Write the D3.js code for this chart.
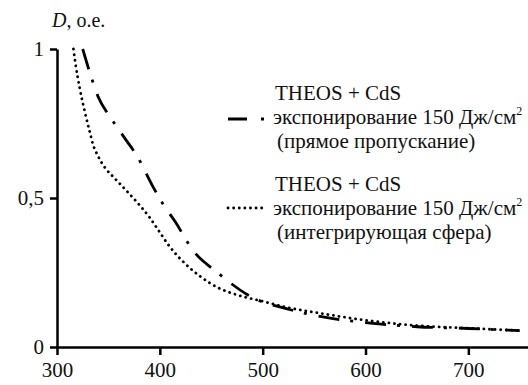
<!DOCTYPE html>
<html>
<head>
<meta charset="utf-8">
<script src="https://cdn.jsdelivr.net/npm/d3@7"></script>
</head>
<body style="margin:0">
<script>
// wavelength, nm
var lambdaDirect = [325, 332, 340, 350, 359, 366, 378, 393, 403, 415, 432, 456, 488, 527, 560, 600, 650, 700, 750];
// D, o.e. - прямое пропускание
var dDirect = [1.0, 0.92, 0.84, 0.78, 0.735, 0.70, 0.64, 0.54, 0.48, 0.42, 0.325, 0.25, 0.17, 0.125, 0.10, 0.082, 0.068, 0.062, 0.055];

var lambdaSphere = [316, 318, 322, 327, 332, 335, 340, 347, 355, 366, 378, 390, 397, 410, 423, 440, 456, 475, 498, 525, 553, 600, 650, 700, 750];
// D, o.e. - интегрирующая сфера
var dSphere = [1.0, 0.95, 0.87, 0.79, 0.72, 0.68, 0.64, 0.60, 0.57, 0.53, 0.485, 0.435, 0.40, 0.335, 0.285, 0.235, 0.20, 0.175, 0.155, 0.132, 0.115, 0.09, 0.072, 0.063, 0.055];

var xTicks = [300, 400, 500, 600, 700];
var yTicks = [0, 0.5, 1];
var yTickLabels = ["0", "0,5", "1"];

var width = 528, height = 385;
var font = "Liberation Serif";

var svg = d3.select("body").append("svg")
  .attr("width", width)
  .attr("height", height);

var x = d3.scaleLinear().domain([300, 758]).range([57, 528]);
var y = d3.scaleLinear().domain([0, 1]).range([347, 49]);

// curves
var line = d3.line()
  .x(function(d) { return x(d[0]); })
  .y(function(d) { return y(d[1]); })
  .curve(d3.curveMonotoneX);

var direct = d3.zip(lambdaDirect, dDirect);
var sphere = d3.zip(lambdaSphere, dSphere);

svg.append("path")
  .datum(sphere)
  .attr("d", line)
  .attr("fill", "none")
  .attr("stroke", "#000")
  .attr("stroke-width", 2.8)
  .attr("stroke-linecap", "round")
  .attr("stroke-dasharray", "0.1,5.5");

svg.append("path")
  .datum(direct)
  .attr("d", line)
  .attr("fill", "none")
  .attr("stroke", "#000")
  .attr("stroke-width", 2.8)
  .attr("stroke-dasharray", "21,11,3,12");

// axes
var xAxis = svg.append("g")
  .attr("transform", "translate(0," + y(0) + ")")
  .call(d3.axisBottom(x).tickValues(xTicks).tickSize(8).tickSizeOuter(0).tickPadding(7));

var yAxis = svg.append("g")
  .attr("transform", "translate(" + x(300) + ",0)")
  .call(d3.axisLeft(y).tickValues(yTicks).tickSize(7).tickSizeOuter(0).tickPadding(6)
    .tickFormat(function(d, i) { return yTickLabels[i]; }));

[xAxis, yAxis].forEach(function(g) {
  g.attr("font-family", font).attr("font-size", 21);
  g.selectAll("path, line").attr("stroke", "#000").attr("stroke-width", 2.5);
  g.selectAll("text").attr("fill", "#111");
});

// axis title
var title = svg.append("text")
  .attr("x", 52).attr("y", 27)
  .attr("font-family", font)
  .attr("font-size", 20).attr("fill", "#111");
title.append("tspan").attr("font-style", "italic").text("D");
title.append("tspan").text(", о.е.");

// legend
var legendItems = [
  { lines: ["THEOS + CdS", "экспонирование 150 Дж/см", "(прямое пропускание)"], y0: 100, sy: 119, dash: "19,14,3,20", cap: "butt" },
  { lines: ["THEOS + CdS", "экспонирование 150 Дж/см", "(интегрирующая сфера)"], y0: 191, sy: 208, dash: "0.1,5.5", cap: "round" }
];
var lineX = [275, 273, 277];

legendItems.forEach(function(item) {
  svg.append("line")
    .attr("x1", 228).attr("x2", 264)
    .attr("y1", item.sy).attr("y2", item.sy)
    .attr("stroke", "#000").attr("stroke-width", 2.8)
    .attr("stroke-linecap", item.cap)
    .attr("stroke-dasharray", item.dash);
  var txt = svg.append("g").selectAll("text")
    .data(item.lines)
    .enter().append("text")
    .attr("x", function(d, i) { return lineX[i]; })
    .attr("y", function(d, i) { return item.y0 + i * 24; })
    .attr("font-family", font)
    .attr("font-size", 21)
    .attr("fill", "#111")
    .text(function(d) { return d; });
  txt.filter(function(d, i) { return i == 1; })
    .append("tspan").attr("dy", -9).attr("font-size", 12).text("2");
});
</script>
</body>
</html>
